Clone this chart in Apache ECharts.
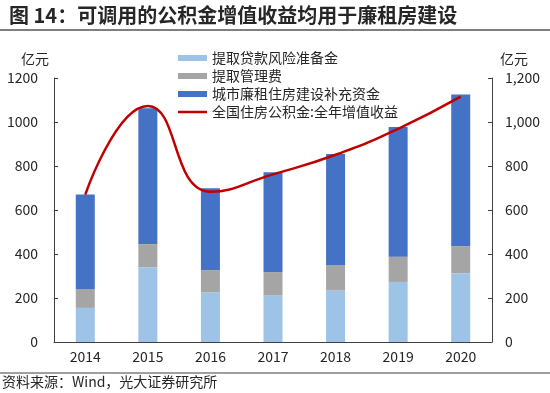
<!DOCTYPE html>
<html>
<head>
<meta charset="utf-8">
<script src="https://cdn.jsdelivr.net/npm/echarts@6/dist/echarts.min.js"></script>
<style>
html,body{margin:0;padding:0;background:#fff;}
#chart{width:550px;height:393px;}
</style>
</head>
<body>
<div id="chart"></div>
<script>
const years = ['2014','2015','2016','2017','2018','2019','2020'];
const riskReserve = [155, 340, 226, 211, 235, 273, 313];
const mgmtFee = [85, 105, 101, 107, 114, 115, 123];
const lowRentFund = [431, 618, 372, 454, 505, 589, 689];
const valueAddedIncome = [670, 1073, 683, 762, 851, 969, 1115];
const yTicks = { min: 0, max: 1200, interval: 200 };

const FONT = "'Noto Sans CJK SC', 'Noto Sans', sans-serif";
const chart = echarts.init(document.getElementById('chart'), null, {renderer: 'canvas'});
const axisLineStyle = { color: '#404040', width: 1 };
chart.setOption({
  animation: false,
  textStyle: { fontFamily: FONT },
  title: {
    text: '图 14：可调用的公积金增值收益均用于廉租房建设',
    left: 4, top: 0,
    textStyle: { fontSize: 20, fontWeight: 'bold', color: '#262626', fontFamily: FONT }
  },
  graphic: [
    { type: 'line', shape: { x1: 0, y1: 30, x2: 550, y2: 30 }, style: { stroke: '#7f7f7f', lineWidth: 2 } },
    { type: 'line', shape: { x1: 0, y1: 373, x2: 550, y2: 373 }, style: { stroke: '#7f7f7f', lineWidth: 1.5 } },
    { type: 'text', left: 2, top: 375, style: { text: '资料来源：Wind，光大证券研究所', font: "14px " + FONT, fill: '#262626' } },
    { type: 'text', left: 21, top: 52, style: { text: '亿元', font: "14px " + FONT, fill: '#262626' } },
    { type: 'text', left: 500, top: 52, style: { text: '亿元', font: "14px " + FONT, fill: '#262626' } }
  ],
  legend: {
    orient: 'vertical',
    left: 173, top: 46,
    itemWidth: 29, itemHeight: 6, itemGap: 4,
    textStyle: { fontSize: 14, color: '#262626', fontFamily: FONT },
    data: [
      { name: '提取贷款风险准备金', icon: 'rect' },
      { name: '提取管理费', icon: 'rect' },
      { name: '城市廉租住房建设补充资金', icon: 'rect' },
      { name: '全国住房公积金:全年增值收益', icon: 'path://M0,0H29V2.5H0Z',
        itemStyle: { color: '#C00000', borderWidth: 0 }, lineStyle: { width: 0 } }
    ]
  },
  grid: { left: 54, right: 58, top: 78, bottom: 51, containLabel: false },
  xAxis: {
    type: 'category',
    data: years,
    axisLine: { lineStyle: axisLineStyle },
    axisTick: { inside: true, length: 4, lineStyle: axisLineStyle },
    axisLabel: { fontSize: 14, color: '#262626', margin: 8, fontFamily: FONT }
  },
  yAxis: [
    {
      type: 'value', min: yTicks.min, max: yTicks.max, interval: yTicks.interval,
      axisLine: { show: true, lineStyle: axisLineStyle },
      axisTick: { show: true, inside: true, length: 4, lineStyle: axisLineStyle },
      splitLine: { show: false },
      axisLabel: { fontSize: 14, color: '#262626', margin: 16, fontFamily: FONT, formatter: v => String(v) }
    },
    {
      type: 'value', position: 'right', min: yTicks.min, max: yTicks.max, interval: yTicks.interval,
      axisLine: { show: true, lineStyle: axisLineStyle },
      axisTick: { show: true, inside: true, length: 4, lineStyle: axisLineStyle },
      splitLine: { show: false },
      axisLabel: {
        fontSize: 14, color: '#262626', margin: 13, fontFamily: FONT,
        formatter: v => v.toLocaleString('en-US')
      }
    }
  ],
  series: [
    { name: '提取贷款风险准备金', type: 'bar', stack: 'total', barWidth: 19, data: riskReserve, itemStyle: { color: '#9DC3E6' } },
    { name: '提取管理费', type: 'bar', stack: 'total', data: mgmtFee, itemStyle: { color: '#A5A5A5' } },
    { name: '城市廉租住房建设补充资金', type: 'bar', stack: 'total', data: lowRentFund, itemStyle: { color: '#4472C4' } },
    { name: '全国住房公积金:全年增值收益', type: 'line', yAxisIndex: 1, smooth: 0.5, symbol: 'none',
      data: valueAddedIncome, lineStyle: { color: '#C00000', width: 2.5 }, itemStyle: { color: '#C00000' }, z: 5 }
  ]
});
</script>
</body>
</html>
